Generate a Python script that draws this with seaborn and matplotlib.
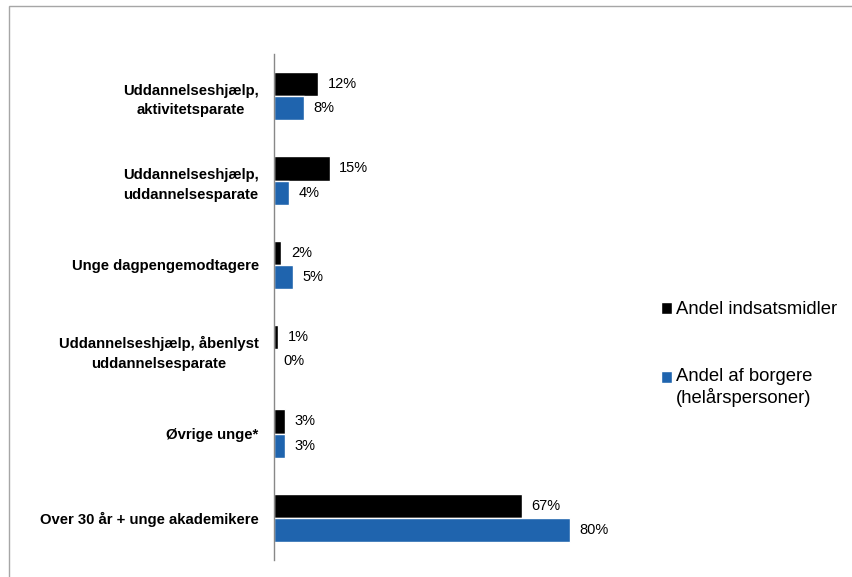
import pandas as pd
import matplotlib
matplotlib.use('Agg')
from matplotlib import pyplot as plt
from matplotlib.patches import Rectangle, Patch
from matplotlib.legend_handler import HandlerPatch
import seaborn as sns

categories = ['Uddannelseshjælp,\naktivitetsparate',
              'Uddannelseshjælp,\nuddannelsesparate',
              'Unge dagpengemodtagere',
              'Uddannelseshjælp, åbenlyst\nuddannelsesparate',
              'Øvrige unge*',
              'Over 30 år + unge akademikere']
series_names = ['Andel indsatsmidler', 'Andel af borgere\n(helårspersoner)']
andel_midler = [12, 15, 2, 1, 3, 67]
andel_borgere = [8, 4, 5, 0, 3, 80]
colors = ['#000000', '#1F64AE']

df = pd.DataFrame({
    'kategori': categories * 2,
    'serie': [series_names[0]] * len(categories) + [series_names[1]] * len(categories),
    'andel': andel_midler + andel_borgere,
})

sns.set_style('white')
plt.rcParams['font.family'] = ['Liberation Sans', 'DejaVu Sans']
plt.rcParams['text.color'] = 'black'
plt.rcParams['ytick.color'] = 'black'

fig = plt.figure(figsize=(8.52, 5.77), dpi=100)
ax = fig.add_axes([274 / 852, 17 / 577, 370 / 852, 506 / 577])
sns.barplot(data=df, y='kategori', x='andel', hue='serie', palette=colors,
            orient='h', width=0.57, saturation=1, legend=False, ax=ax)

for cont, vals in zip(ax.containers, [andel_midler, andel_borgere]):
    ax.bar_label(cont, labels=['{:.0f}%'.format(v) for v in vals],
                 padding=7, fontsize=10.5, color='black')

ax.set_xlim(0, 100)
ax.set_ylim(5.5, -0.5)
ax.set_xticks([])
ax.set_xlabel('')
ax.set_ylabel('')
for s in ['top', 'right', 'bottom']:
    ax.spines[s].set_visible(False)
ax.spines['left'].set_color('#888888')
ax.spines['left'].set_linewidth(1)
ax.tick_params(axis='y', length=0, pad=11, labelsize=10.7, labelcolor='black')
for lbl in ax.get_yticklabels():
    lbl.set_fontweight('bold')
    lbl.set_multialignment('center')
    lbl.set_linespacing(1.5)

leg_size = 13.3


def square_first_line(legend, orig_handle, xdescent, ydescent, width, height, fontsize):
    # put the square next to the first line of a two-line label
    return Rectangle((-xdescent, -ydescent + fontsize * 0.6), width, height)


handles = [Patch(facecolor=c) for c in colors]
fig.legend(handles, series_names, loc='upper left',
           bbox_to_anchor=(654 / 852, 1 - 294 / 577), frameon=False,
           fontsize=leg_size, handlelength=0.6, handleheight=0.6,
           handletextpad=0.2, labelspacing=2.7, borderaxespad=0,
           handler_map={handles[1]: HandlerPatch(patch_func=square_first_line)})

# grey frame around the chart area
fig.patches.append(Rectangle((9 / 852, -0.1), 1.5, 1 - 6 / 577 + 0.1,
                             transform=fig.transFigure, fill=False,
                             edgecolor='#a6a6a6', lw=1))

fig.savefig('out.png', dpi=100)
